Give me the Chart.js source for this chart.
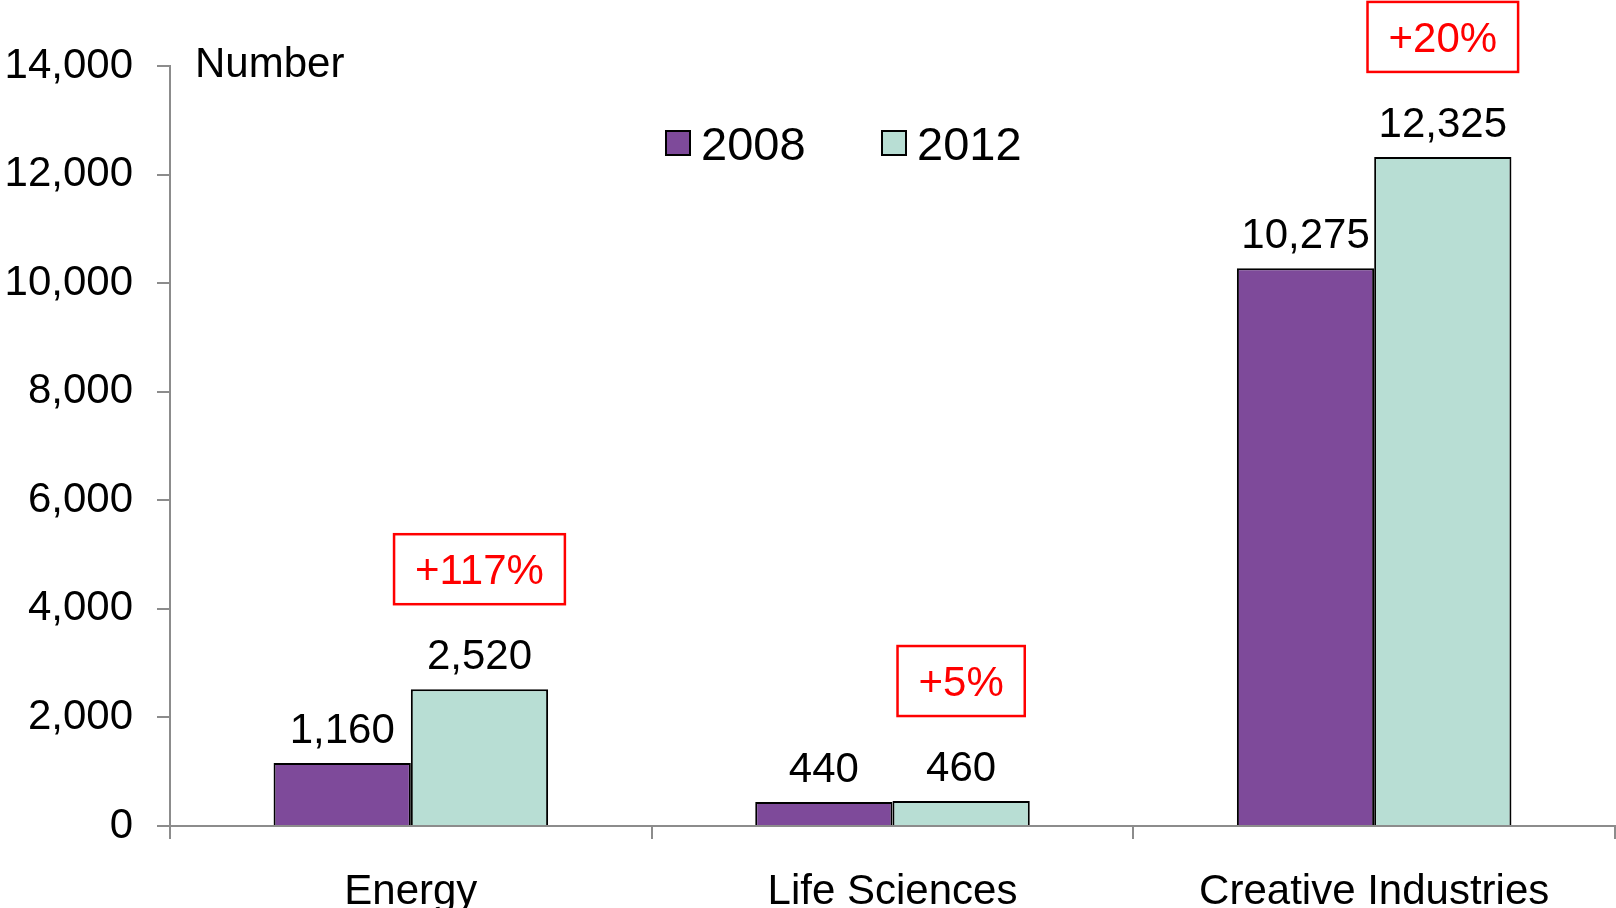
<!DOCTYPE html>
<html>
<head>
<meta charset="utf-8">
<script src="https://cdn.jsdelivr.net/npm/chart.js@4/dist/chart.umd.min.js"></script>
<style>
  html, body { margin: 0; padding: 0; background: #ffffff; }
  #wrap { width: 1616px; height: 908px; position: relative; }
</style>
</head>
<body>
<div id="wrap"><canvas id="c" width="1616" height="908"></canvas></div>
<script>
const categories = ["Energy", "Life Sciences", "Creative Industries"];
const seriesNames = ["2008", "2012"];
const values2008 = [1160, 440, 10275];
const values2012 = [2520, 460, 12325];
const growthLabels = ["+117%", "+5%", "+20%"];
const yTicks = [0, 2000, 4000, 6000, 8000, 10000, 12000, 14000];
const yAxisLabel = "Number";

const FONT = "'Liberation Sans', Arial, Helvetica, sans-serif";
const colors = ["#7E4A9A", "#B8DED4"];
const fmt = v => v.toLocaleString("en-US");

const overlay = {
  id: "overlay",
  afterDatasetsDraw(chart) {
    const ctx = chart.ctx;
    const area = chart.chartArea;
    ctx.save();
    // value labels
    ctx.font = "42px " + FONT;
    ctx.fillStyle = "#000";
    ctx.textAlign = "center";
    ctx.textBaseline = "alphabetic";
    chart.data.datasets.forEach((ds, di) => {
      chart.getDatasetMeta(di).data.forEach((bar, i) => {
        ctx.fillText(fmt(ds.data[i]), bar.x, bar.y - 20);
      });
    });
    // growth boxes above 2012 bars
    const meta = chart.getDatasetMeta(1);
    ctx.font = "42px " + FONT;
    meta.data.forEach((bar, i) => {
      const txt = growthLabels[i];
      const w = ctx.measureText(txt).width + 42;
      const h = 70;
      const bottom = bar.y - 85;
      const cx = bar.x;
      ctx.strokeStyle = "#FF0000";
      ctx.lineWidth = 2.5;
      ctx.strokeRect(cx - w / 2, bottom - h, w, h);
      ctx.fillStyle = "#FF0000";
      ctx.textAlign = "center";
      ctx.textBaseline = "alphabetic";
      ctx.fillText(txt, cx, bottom - h / 2 + 15);
    });
    // axis unit label
    ctx.fillStyle = "#000";
    ctx.textAlign = "left";
    ctx.font = "42px " + FONT;
    ctx.fillText(yAxisLabel, area.left + 25, 77);
    // legend
    ctx.font = "47px " + FONT;
    const lx = [666, 882];
    chart.data.datasets.forEach((ds, di) => {
      const x = lx[di];
      ctx.fillStyle = ds.backgroundColor;
      ctx.fillRect(x, 131, 24, 24);
      ctx.strokeStyle = "#000";
      ctx.lineWidth = 2;
      ctx.strokeRect(x, 131, 24, 24);
      ctx.fillStyle = "#000";
      ctx.textAlign = "left";
      ctx.fillText(ds.label, x + 35, 160);
    });
    ctx.restore();
  }
};

new Chart(document.getElementById("c"), {
  type: "bar",
  data: {
    labels: categories,
    datasets: [
      { label: seriesNames[0], data: values2008, backgroundColor: colors[0], borderColor: "#000", borderWidth: 2 },
      { label: seriesNames[1], data: values2012, backgroundColor: colors[1], borderColor: "#000", borderWidth: 2 }
    ]
  },
  options: {
    responsive: false,
    animation: false,
    devicePixelRatio: 1,
    layout: { padding: { top: 66, right: 1, bottom: 0, left: 0 } },
    datasets: { bar: { categoryPercentage: 0.57, barPercentage: 1.0 } },
    plugins: { legend: { display: false }, tooltip: { enabled: false }, title: { display: false } },
    scales: {
      x: {
        afterFit(scale) { scale.height = 82; },
        grid: { display: true, drawOnChartArea: false, offset: true, color: "#8c8c8c", tickLength: 13, lineWidth: 2 },
        border: { display: true, color: "#8c8c8c", width: 2 },
        ticks: { color: "#000", font: { family: FONT, size: 42 }, padding: 28, maxRotation: 0 }
      },
      y: {
        min: 0, max: 14000,
        afterFit(scale) { scale.width = 170; },
        afterBuildTicks(scale) { scale.ticks = yTicks.map(v => ({ value: v })); },
        grid: { display: true, drawOnChartArea: false, color: "#8c8c8c", tickLength: 13, lineWidth: 2 },
        border: { display: true, color: "#8c8c8c", width: 2 },
        ticks: { color: "#000", font: { family: FONT, size: 42 }, padding: 24, callback: v => fmt(v) }
      }
    }
  },
  plugins: [overlay]
});
</script>
</body>
</html>
